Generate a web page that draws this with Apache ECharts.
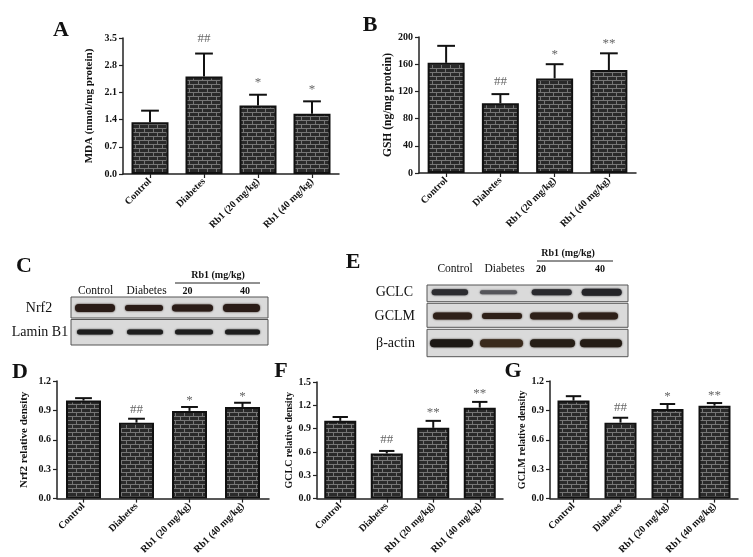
<!DOCTYPE html>
<html>
<head>
<meta charset="utf-8">
<script src="https://cdn.jsdelivr.net/npm/echarts@6/dist/echarts.min.js"></script>
<style>
  html, body { margin: 0; padding: 0; background: #fff; }
  #chart { width: 753px; height: 557px; }
</style>
</head>
<body>
<div id="chart"></div>
<script>
// groups on every bar panel
const groups = ['Control', 'Diabetes', 'Rb1 (20 mg/kg)', 'Rb1 (40 mg/kg)'];

// A: MDA
const mdaMean = [1.33, 2.51, 1.76, 1.55];
const mdaSd = [0.30, 0.59, 0.28, 0.32];
const mdaSig = ['', '##', '*', '*'];
const mdaTicks = ['0.0', '0.7', '1.4', '2.1', '2.8', '3.5'];

// B: GSH
const gshMean = [162, 102.5, 139, 151.5];
const gshSd = [25, 13.5, 21, 24.5];
const gshSig = ['', '##', '*', '**'];
const gshTicks = ['0', '40', '80', '120', '160', '200'];

// D: Nrf2
const nrf2Mean = [1.00, 0.775, 0.895, 0.935];
const nrf2Sd = [0.025, 0.04, 0.04, 0.043];
const nrf2Sig = ['', '##', '*', '*'];
const nrf2Ticks = ['0.0', '0.3', '0.6', '0.9', '1.2'];

// F: GCLC
const gclcMean = [1.00, 0.58, 0.91, 1.17];
const gclcSd = [0.05, 0.033, 0.09, 0.074];
const gclcSig = ['', '##', '**', '**'];
const gclcTicks = ['0.0', '0.3', '0.6', '0.9', '1.2', '1.5'];

// G: GCLM
const gclmMean = [1.00, 0.775, 0.915, 0.948];
const gclmSd = [0.045, 0.05, 0.05, 0.027];
const gclmSig = ['', '##', '*', '**'];
const gclmTicks = ['0.0', '0.3', '0.6', '0.9', '1.2'];

// western blot lanes / rows
const blotLanes = ['Control', 'Diabetes', '20', '40'];
const blotCRows = ['Nrf2', 'Lamin B1'];
const blotERows = ['GCLC', 'GCLM', 'β-actin'];

const FONT = '"Liberation Serif", "DejaVu Serif", serif';

function brick() {
  const c = document.createElement('canvas');
  c.width = 9; c.height = 8;
  const g = c.getContext('2d');
  g.fillStyle = '#2a2a2a';
  g.fillRect(0, 0, 9, 8);
  g.fillStyle = '#767676';
  g.fillRect(0, 0, 9, 1);
  g.fillRect(0, 4, 9, 1);
  g.fillRect(0, 1, 1, 3);
  g.fillRect(4, 5, 1, 3);
  return c;
}
const brickFill = { image: brick(), repeat: 'repeat' };

const panels = [
  { mean: mdaMean, sd: mdaSd, sig: mdaSig, ticks: mdaTicks, name: 'MDA (nmol/mg protein)',
    grid: { left: 123, top: 38, width: 216, height: 136 }, bw: 37, gap: 28, nameSize: 11, sigGap: 15 },
  { mean: gshMean, sd: gshSd, sig: gshSig, ticks: gshTicks, name: 'GSH (ng/mg protein)',
    grid: { left: 419, top: 37, width: 217, height: 136 }, bw: 37, gap: 23, nameSize: 11.5, sigGap: 13 },
  { mean: nrf2Mean, sd: nrf2Sd, sig: nrf2Sig, ticks: nrf2Ticks, name: 'Nrf2 relative density',
    grid: { left: 57, top: 381, width: 212, height: 122 }, bw: 35, gap: 27, nameSize: 11, sigGap: 9 },
  { mean: gclcMean, sd: gclcSd, sig: gclcSig, ticks: gclcTicks, name: 'GCLC relative density',
    grid: { left: 317, top: 382, width: 186, height: 121 }, bw: 32, gap: 21, nameSize: 10, sigGap: 11 },
  { mean: gclmMean, sd: gclmSd, sig: gclmSig, ticks: gclmTicks, name: 'GCLM relative density',
    grid: { left: 550, top: 381, width: 188, height: 121 }, bw: 32, gap: 21, nameSize: 10, sigGap: 10 }
];

const grids = [], xAxes = [], yAxes = [], series = [];
panels.forEach(function (p, i) {
  grids.push(p.grid);
  const axisLine = { show: true, lineStyle: { color: '#222', width: 1.5 } };
  xAxes.push({
    type: 'category', gridIndex: i, data: groups,
    axisLine: axisLine,
    axisTick: { show: true, alignWithLabel: true, length: 4, lineStyle: { color: '#222', width: 1.2 } },
    axisLabel: { rotate: 45, interval: 0, margin: 6, fontFamily: FONT, fontWeight: 'bold', fontSize: 10, color: '#111' }
  });
  const lo = parseFloat(p.ticks[0]);
  const hi = parseFloat(p.ticks[p.ticks.length - 1]);
  const step = parseFloat(p.ticks[1]) - lo;
  yAxes.push({
    type: 'value', gridIndex: i, min: lo, max: hi, interval: step,
    name: p.name, nameLocation: 'middle', nameGap: p.gap,
    nameTextStyle: { fontFamily: FONT, fontWeight: 'bold', fontSize: p.nameSize, color: '#111' },
    axisLine: axisLine,
    axisTick: { show: true, length: 4, lineStyle: { color: '#222', width: 1.2 } },
    splitLine: { show: false },
    axisLabel: {
      margin: 6, fontFamily: FONT, fontWeight: 'bold', fontSize: 10, color: '#111',
      formatter: function (v) {
        const k = Math.round((v - lo) / step);
        return p.ticks[k];
      }
    }
  });
  series.push({
    type: 'bar', xAxisIndex: i, yAxisIndex: i, data: p.mean, barWidth: p.bw,
    itemStyle: { color: brickFill, borderColor: '#111', borderWidth: 2 }
  });
  const errData = p.mean.map(function (m, k) { return [k, m, m + p.sd[k]]; });
  series.push({
    type: 'custom', xAxisIndex: i, yAxisIndex: i, data: errData, z: 5,
    renderItem: function (params, api) {
      const base = api.coord([api.value(0), api.value(1)]);
      const top = api.coord([api.value(0), api.value(2)]);
      const half = p.bw * 0.24;
      const mark = p.sig[params.dataIndex];
      const kids = [
        { type: 'line', shape: { x1: base[0], y1: base[1], x2: top[0], y2: top[1] },
          style: { stroke: '#111', lineWidth: 2 } },
        { type: 'line', shape: { x1: top[0] - half, y1: top[1], x2: top[0] + half, y2: top[1] },
          style: { stroke: '#111', lineWidth: 2 } }
      ];
      if (mark) {
        const shift = mark.charAt(0) === '*' ? 3 : 0;
        kids.push({ type: 'text', style: {
          text: mark, x: top[0], y: top[1] - p.sigGap + shift,
          align: 'center', verticalAlign: 'middle',
          font: '13px ' + FONT, fill: '#666'
        } });
      }
      return { type: 'group', children: kids };
    }
  });
});

// ---- blots and panel letters as graphic elements ----
const graphic = [];
function txt(s, x, y, size, bold, align) {
  graphic.push({ type: 'text', z: 10, style: {
    text: s, x: x, y: y, align: align || 'center', verticalAlign: 'middle',
    font: (bold ? 'bold ' : '') + size + 'px ' + FONT, fill: '#111'
  } });
}
function box(x, y, w, h) {
  graphic.push({ type: 'rect', z: 8, shape: { x: x, y: y, width: w, height: h },
    style: { fill: '#dadada', stroke: '#555', lineWidth: 1 } });
}
function band(x1, x2, cy, th, col) {
  graphic.push({ type: 'rect', z: 9, shape: { x: x1, y: cy - th / 2, width: x2 - x1, height: th, r: th / 2 },
    style: { fill: col, shadowBlur: 2, shadowColor: col } });
}
function hline(x1, x2, y) {
  graphic.push({ type: 'line', z: 9, shape: { x1: x1, y1: y, x2: x2, y2: y },
    style: { stroke: '#222', lineWidth: 1 } });
}

// panel letters
[['A', 61, 30], ['B', 370, 25], ['C', 24, 266], ['D', 20, 372], ['E', 353, 262],
 ['F', 281, 371], ['G', 513, 371]].forEach(function (l) { txt(l[0], l[1], l[2], 22, true); });

// blot C
txt('Rb1 (mg/kg)', 218, 275, 10, true);
hline(175, 260, 283);
[95.5, 146.5, 187.5, 245].forEach(function (x, k) {
  txt(blotLanes[k], x, 291, k < 2 ? 11.5 : 10, k >= 2);
});
box(71, 297, 197, 21);
box(71, 319.5, 197, 25.5);
txt(blotCRows[0], 39, 308, 14, false);
txt(blotCRows[1], 40, 332, 14, false);
[[75, 115, 8], [125, 163, 6], [172, 213, 7], [223, 260, 8]].forEach(function (b) {
  band(b[0], b[1], 308, b[2], '#2a1c17');
});
[[77, 113], [127, 163], [175, 213], [225, 260]].forEach(function (b) {
  band(b[0], b[1], 332, 5, '#1e1e1e');
});

// blot E
txt('Rb1 (mg/kg)', 568, 253, 10, true);
hline(537, 613, 261);
[455, 504.5, 541, 600].forEach(function (x, k) {
  txt(blotLanes[k], x, 269, k < 2 ? 11.5 : 10, k >= 2);
});
box(427, 285, 201, 16.7);
box(427, 303.3, 201, 24);
box(427, 329.3, 201, 27.4);
txt(blotERows[0], 413, 292, 14, false, 'right');
txt(blotERows[1], 415, 316, 14, false, 'right');
txt(blotERows[2], 415, 343, 14, false, 'right');
[[431.7, 468, 6, '#2c2c30'], [480, 517, 4, '#55555a'], [531.7, 571.7, 6, '#2a2a2e'], [581.7, 621.7, 7, '#242428']].forEach(function (b) {
  band(b[0], b[1], 292.3, b[2], b[3]);
});
[[433, 472, 7], [482, 522, 6], [530, 573, 7], [578, 618, 7]].forEach(function (b) {
  band(b[0], b[1], 316, b[2], '#2e2018');
});
[[430, 473, '#1c1814'], [480, 523, '#3a2a1c'], [530, 575, '#261e16'], [580, 622, '#241c15']].forEach(function (b) {
  band(b[0], b[1], 343.3, 8, b[2]);
});

const chart = echarts.init(document.getElementById('chart'), null, { renderer: 'canvas' });
chart.setOption({
  animation: false,
  backgroundColor: '#fff',
  grid: grids,
  xAxis: xAxes,
  yAxis: yAxes,
  series: series,
  graphic: graphic
});
</script>
</body>
</html>
